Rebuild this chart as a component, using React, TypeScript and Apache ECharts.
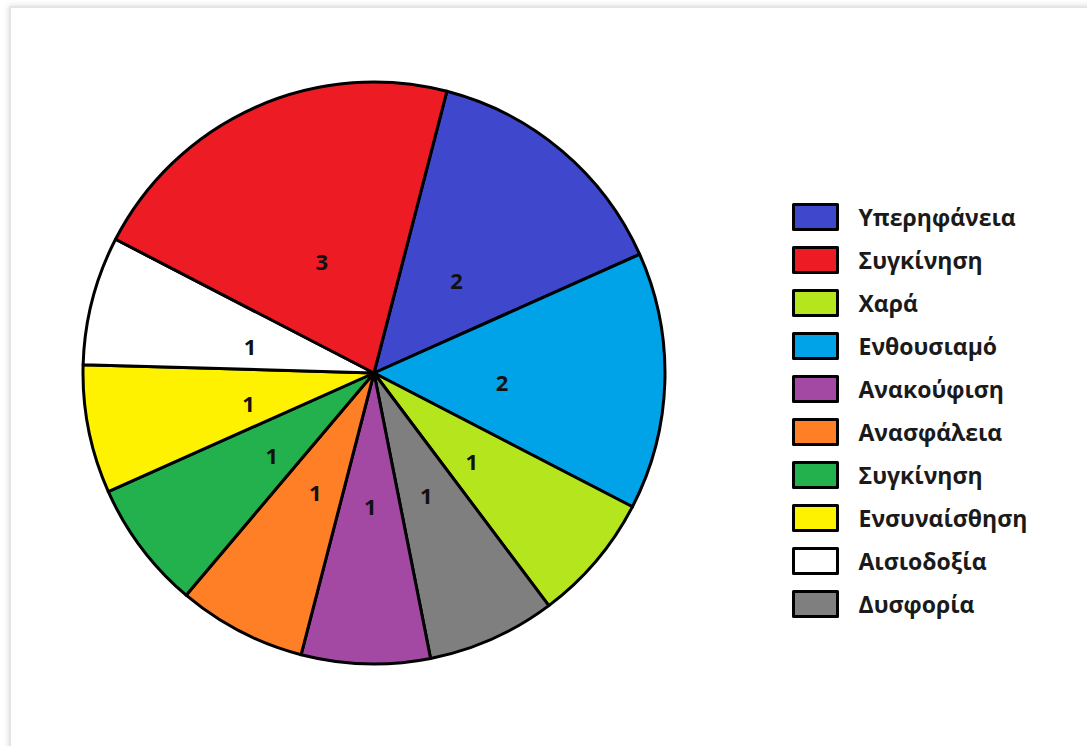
import React, { useEffect, useRef } from "react";
import * as echarts from "echarts";

const categories = [
  "Υπερηφάνεια",
  "Ενθουσιαμό",
  "Χαρά",
  "Δυσφορία",
  "Ανακούφιση",
  "Ανασφάλεια",
  "Συγκίνηση#2",
  "Ενσυναίσθηση",
  "Αισιοδοξία",
  "Συγκίνηση#1",
];
const values = [2, 2, 1, 1, 1, 1, 1, 1, 1, 3];
const colors = [
  "#3F48CC",
  "#00A2E8",
  "#B5E61D",
  "#7F7F7F",
  "#A349A4",
  "#FF7F27",
  "#22B14C",
  "#FFF200",
  "#FFFFFF",
  "#ED1C24",
];
const legendOrder = [
  "Υπερηφάνεια",
  "Συγκίνηση#1",
  "Χαρά",
  "Ενθουσιαμό",
  "Ανακούφιση",
  "Ανασφάλεια",
  "Συγκίνηση#2",
  "Ενσυναίσθηση",
  "Αισιοδοξία",
  "Δυσφορία",
];

export default function App() {
  const ref = useRef<HTMLDivElement>(null);
  useEffect(() => {
    document.body.style.margin = "0";
    const chart = echarts.init(ref.current!, null, { renderer: "svg" });
    const data = categories.map((n, i) => ({
      name: n,
      value: values[i],
      itemStyle: { color: colors[i] },
    }));
    chart.setOption({
      animation: false,
      backgroundColor: "#ffffff",
      graphic: [
        {
          type: "rect",
          z: -10,
          shape: { x: 10, y: 7, width: 1200, height: 900 },
          style: {
            fill: "#ffffff",
            stroke: "#e4e4e4",
            lineWidth: 2,
            shadowBlur: 6,
            shadowColor: "rgba(0,0,0,0.15)",
          },
        },
      ],
      legend: {
        orient: "vertical",
        left: 787,
        top: 198,
        data: legendOrder,
        icon: "rect",
        itemWidth: 44,
        itemHeight: 25,
        itemGap: 15,
        selectedMode: false,
        itemStyle: { borderColor: "#000", borderWidth: 3 },
        formatter: (name: string) => name.replace(/#\d$/, ""),
        textStyle: {
          fontFamily: "Open Sans",
          fontSize: 23,
          lineHeight: 25,
          fontWeight: "bold",
          color: "#1a1a1a",
          padding: [0, 0, 0, 16],
        },
      },
      series: [
        {
          type: "pie",
          center: [374, 373],
          radius: [0, 291],
          startAngle: 75.5,
          clockwise: true,
          silent: true,
          label: { show: false },
          labelLine: { show: false },
          itemStyle: { borderColor: "#000", borderWidth: 3 },
          data,
        },
        {
          type: "pie",
          center: [374, 378],
          radius: [0, 250],
          startAngle: 75.5,
          clockwise: true,
          silent: true,
          legendHoverLink: false,
          itemStyle: { color: "rgba(0,0,0,0)", borderWidth: 0 },
          label: {
            show: true,
            position: "inside",
            formatter: "{c}",
            fontFamily: "Open Sans",
            fontSize: 22,
            fontWeight: "bold",
            color: "#111",
          },
          labelLine: { show: false },
          data: categories.map((n, i) => ({ name: n, value: values[i] })),
        },
      ],
    });
    return () => chart.dispose();
  }, []);
  return <div ref={ref} style={{ width: 1087, height: 746 }} />;
}
